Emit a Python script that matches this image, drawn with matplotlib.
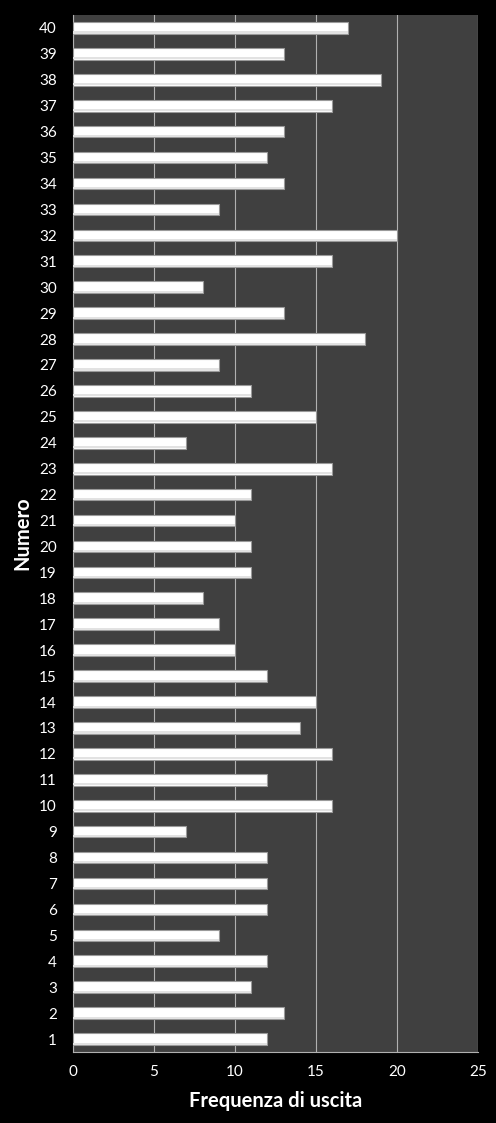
import matplotlib
matplotlib.use("Agg")
import matplotlib.pyplot as plt
import numpy as np

plt.rcParams['font.family'] = ['Lato', 'DejaVu Sans']

numeri = [str(i) for i in range(1, 41)]
frequenze = [12, 13, 11, 12, 9, 12, 12, 12, 7, 16,
             12, 16, 14, 15, 12, 10, 9, 8, 11, 11,
             10, 11, 16, 7, 15, 11, 9, 18, 13, 8,
             16, 20, 9, 13, 12, 13, 16, 19, 13, 17]
xticks = [0, 5, 10, 15, 20, 25]

fig = plt.figure(figsize=(4.96, 11.23), dpi=100, facecolor='black')
ax = fig.add_axes([73/496, 1 - 1052/1123, (478-73)/496, (1052-15)/1123])
ax.set_facecolor('#404040')

y = np.arange(len(numeri))
ax.barh(y, frequenze, height=0.45, color='white', edgecolor='#9a9a9a', linewidth=0.8, zorder=3)
# subtle shading near bar bottom
ax.barh(y - 0.175, frequenze, height=0.08, color='#e2e2e2', linewidth=0, zorder=4)

ax.set_xlim(0, 25)
ax.set_ylim(-0.5, len(numeri) - 0.5)
ax.set_xticks(xticks)
ax.set_xticklabels([str(t) for t in xticks])
ax.set_yticks(y)
ax.set_yticklabels(numeri)
ax.grid(axis='x', color='#b0b0b0', linewidth=0.8, zorder=0)
ax.set_axisbelow(True)
for s in ax.spines.values():
    s.set_visible(False)
ax.spines['left'].set_visible(True)
ax.spines['left'].set_color('#b0b0b0')
ax.spines['bottom'].set_visible(True)
ax.spines['bottom'].set_color('#b0b0b0')
ax.tick_params(axis='both', colors='white', labelsize=11, length=0)
ax.tick_params(axis='x', pad=9)
ax.tick_params(axis='y', pad=11.5)
ax.set_xlabel('Frequenza di uscita', color='white', fontsize=14.5, fontweight='bold', labelpad=9)
ax.set_ylabel('Numero', color='white', fontsize=14.5, fontweight='bold', labelpad=5)

fig.savefig('out.png', dpi=100, facecolor='black')
